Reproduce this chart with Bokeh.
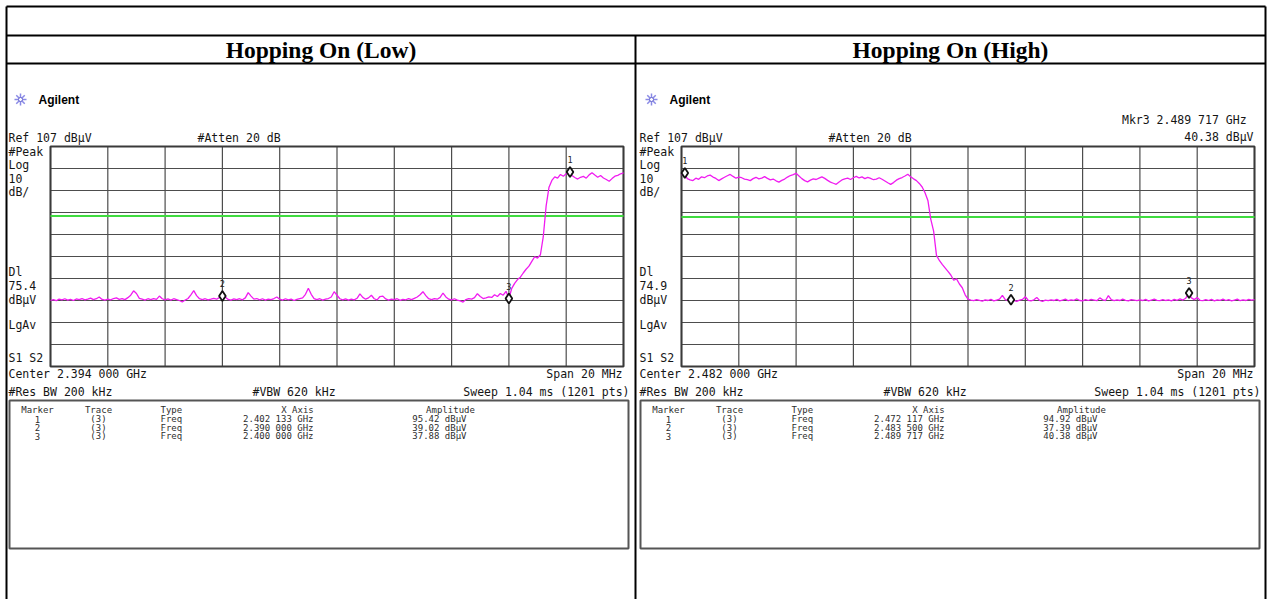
from bokeh.plotting import figure
from bokeh.models import Range1d
from bokeh.embed import file_html
from bokeh.resources import INLINE
from bokeh.core.properties import value

# ---------------------------------------------------------------- data
TITLES = ["Hopping On (Low)", "Hopping On (High)"]
CENTER_MHZ = [2394.0, 2482.0]
SPAN_MHZ = 20.0
SWEEP_STEP_MHZ = 0.1
REF_LEVEL = 107.0
DB_PER_DIV = 10.0
DIVS = 10
DISPLAY_LINE = [75.4, 74.9]
ATTEN_DB = 20
RES_BW_KHZ = 200
VBW_KHZ = 620
SWEEP_MS = 1.04
SWEEP_PTS = 1201

LOW_MARKER_GHZ = [2.402133, 2.390000, 2.400000]
LOW_MARKER_DBUV = [95.42, 39.02, 37.88]
HIGH_MARKER_GHZ = [2.472117, 2.483500, 2.489717]
HIGH_MARKER_DBUV = [94.92, 37.39, 40.38]

# trace levels in dBuV, one value per 0.1 MHz from the left edge of the span
LOW_TRACE = [
    37.0, 37.4, 36.9, 37.6, 37.3, 37.8, 37.2, 37.5, 37.0, 37.7,
    37.4, 37.9, 37.3, 37.6, 38.1, 37.4, 37.8, 38.6, 37.5, 37.2,
    37.6, 37.3, 37.9, 38.2, 37.5, 37.8, 37.4, 38.3, 39.4, 41.4,
    40.2, 38.0, 37.6, 37.2, 37.8, 37.4, 37.9, 37.5, 39.0, 37.8,
    37.3, 37.7, 37.2, 37.8, 37.4, 37.0, 36.3, 37.2, 37.9, 39.6,
    41.5, 39.2, 37.8, 37.4, 37.8, 37.3, 37.6, 38.0, 37.6, 38.4,
    39.0, 38.6, 37.5, 37.2, 37.7, 37.4, 37.8, 37.3, 38.2, 40.6,
    39.0, 37.6, 37.9, 37.3, 37.8, 37.2, 37.6, 37.4, 37.9, 38.6,
    37.6, 37.2, 37.8, 37.3, 37.6, 37.0, 37.5, 37.9, 38.2, 39.8,
    42.6, 39.8, 37.9, 37.4, 37.8, 37.2, 37.6, 37.9, 38.6, 41.0,
    39.4, 37.8, 37.3, 37.7, 37.2, 37.6, 37.3, 38.0, 40.0, 38.4,
    37.6, 38.2, 39.4, 37.8, 37.3, 38.8, 39.0, 37.7, 37.2, 37.6,
    37.4, 37.8, 37.1, 37.5, 37.3, 37.9, 37.4, 38.0, 38.6, 39.6,
    41.0, 39.2, 37.8, 37.4, 37.9, 37.6, 38.4, 40.4, 38.6, 37.6,
    37.3, 37.8, 37.2, 36.8, 36.3, 37.4, 37.9, 37.6, 38.3, 40.1,
    38.8, 37.9, 38.2, 38.6, 38.4, 39.6, 38.8, 40.2, 39.4, 41.2,
    37.9, 42.5, 44.8, 46.5, 47.6, 49.5, 51.2, 52.6, 54.8, 56.9,
    56.3, 57.8, 66.0, 80.0, 88.5, 91.6, 93.2, 92.6, 94.3, 93.5,
    94.6, 95.4, 93.8, 92.9, 92.2, 93.0, 93.4, 92.6, 94.1, 95.1,
    94.0, 93.0, 93.8, 92.7, 92.0, 91.2, 92.4, 93.5, 93.9, 94.6,
    95.0,
]
HIGH_TRACE = [
    94.1, 94.9, 92.4, 91.8, 91.5, 92.6, 92.1, 93.2, 92.8, 93.6,
    94.0, 93.1, 92.5, 91.5, 92.3, 93.0, 93.7, 94.3, 93.4, 92.6,
    93.1, 92.8, 92.2, 91.9, 91.5, 92.4, 93.0, 92.3, 92.6, 93.3,
    92.5, 91.8, 92.2, 91.4, 90.8, 91.6, 92.2, 93.1, 93.8, 94.2,
    94.8, 93.6, 92.4, 91.5, 90.9, 91.7, 92.3, 92.0, 92.6, 93.2,
    92.5, 91.6, 90.8, 90.3, 89.8, 90.9, 91.8, 92.3, 92.6, 92.0,
    92.8, 93.4, 92.7, 93.2, 92.4, 93.0, 92.5, 91.9, 92.2, 92.8,
    92.1, 91.3, 90.5, 89.8, 90.6, 91.7, 92.4, 92.9, 93.6, 94.4,
    93.2, 92.3, 91.5, 90.2, 88.6, 86.0, 82.5, 74.0, 68.5, 57.5,
    55.2, 53.4, 51.8, 50.2, 48.6, 46.2, 46.8, 44.5, 42.8, 39.6,
    37.6, 37.2, 36.9, 37.4, 37.1, 36.7, 37.3, 37.0, 37.5, 36.8,
    37.2, 37.6, 39.3, 37.4, 36.9, 37.39, 37.1, 36.6, 37.2, 37.5,
    38.7, 37.1, 36.8, 37.3, 38.4, 37.0, 36.6, 37.2, 36.9, 37.3,
    37.0, 37.5, 36.8, 37.2, 37.6, 36.9, 37.3, 37.1, 37.7, 37.0,
    36.8, 37.4, 37.0, 37.5, 37.2, 36.9, 38.2, 37.3, 37.0, 39.2,
    37.4, 36.9, 37.3, 37.0, 37.6, 37.1, 36.8, 37.4, 37.2, 36.9,
    37.3, 37.0, 37.5, 36.8, 37.2, 37.6, 37.1, 36.9, 37.4, 37.0,
    37.3, 36.8, 37.5, 37.1, 37.7, 37.2, 38.0, 40.38, 38.2, 37.4,
    38.4, 37.1, 36.9, 37.4, 37.0, 37.5, 36.8, 37.3, 37.1, 37.6,
    37.0, 37.4, 36.8, 37.2, 37.6, 36.9, 37.3, 37.0, 37.5, 37.2,
    37.4,
]

# ---------------------------------------------------------------- page geometry
W, H = 1269, 599
GRID_TOP, GRID_BOT = 146.0, 366.0
GRID_LEFT = [50.0, 681.0]
GRID_WIDTH = 573.0
PANEL_DX = [0.0, 631.0]

MONO = "DejaVu Sans Mono"
TRACE_COLOR = "#f01cf0"
DL_COLOR = "#3fdc3f"
GRID_COLOR = "#4d4d4d"

p = figure(width=W, height=H, x_range=Range1d(0, W), y_range=Range1d(H, 0),
           output_backend="svg", toolbar_location=None, min_border=0,
           x_axis_location=None, y_axis_location=None)
p.grid.visible = False
p.outline_line_color = None
p.background_fill_color = "white"
p.border_fill_color = "white"


def freq_range(px_left, f0, f1):
    s = (f1 - f0) / GRID_WIDTH
    px_right = px_left + GRID_WIDTH
    return Range1d(f0 - px_left * s, f1 + (W - px_right) * s)


s_db = DB_PER_DIV * DIVS / (GRID_BOT - GRID_TOP)
bottom_level = REF_LEVEL - DB_PER_DIV * DIVS
p.extra_y_ranges = {"db": Range1d(bottom_level - (H - GRID_BOT) * s_db,
                                  REF_LEVEL + GRID_TOP * s_db)}
p.extra_x_ranges = {
    f"f{k}": freq_range(GRID_LEFT[k], CENTER_MHZ[k] - SPAN_MHZ / 2, CENTER_MHZ[k] + SPAN_MHZ / 2)
    for k in range(2)
}


def label(x, y, txt, size="11.5px", align="left", font=MONO, style="normal", color="#151515"):
    p.text(x=[x], y=[y], text=[txt], text_font=value(font), text_font_size=size,
           text_align=align, text_baseline="middle", text_font_style=style,
           text_color=color)


def ghz_text(mhz):
    s = f"{mhz / 1000:.6f}"
    return f"{s[:5]} {s[5:]} GHz"


# ---------------------------------------------------------------- document table
TABLE_L, TABLE_R, TABLE_T = 6, 1265, 6
ROW1, ROW2, COL_DIV = 35, 63, 635
p.segment(x0=[TABLE_L, TABLE_L, TABLE_L, TABLE_L, TABLE_R, COL_DIV],
          y0=[TABLE_T, ROW1, ROW2, TABLE_T, TABLE_T, ROW1],
          x1=[TABLE_R, TABLE_R, TABLE_R, TABLE_L, TABLE_R, COL_DIV],
          y1=[TABLE_T, ROW1, ROW2, H, H, H],
          line_color="black", line_width=2)

for k in range(2):
    cx = (TABLE_L + COL_DIV) / 2 if k == 0 else (COL_DIV + TABLE_R) / 2
    label(cx, 49, TITLES[k], size="23.5px", align="center",
          font="Liberation Serif", style="bold", color="black")

# ---------------------------------------------------------------- analyzer screens
panels = [
    (LOW_TRACE, LOW_MARKER_GHZ, LOW_MARKER_DBUV, False),
    (HIGH_TRACE, HIGH_MARKER_GHZ, HIGH_MARKER_DBUV, True),
]

for k, (trace, mk_ghz, mk_dbuv, readout) in enumerate(panels):
    rng = f"f{k}"
    dx = PANEL_DX[k]
    f0 = CENTER_MHZ[k] - SPAN_MHZ / 2
    f1 = CENTER_MHZ[k] + SPAN_MHZ / 2
    kw = dict(x_range_name=rng, y_range_name="db")

    # graticule
    vx = [f0 + SPAN_MHZ / DIVS * i for i in range(DIVS + 1)]
    hy = [REF_LEVEL - DB_PER_DIV * i for i in range(DIVS + 1)]
    p.segment(x0=vx, y0=[bottom_level] * len(vx), x1=vx, y1=[REF_LEVEL] * len(vx),
              line_color=GRID_COLOR, line_width=1.2, **kw)
    p.segment(x0=[f0] * len(hy), y0=hy, x1=[f1] * len(hy), y1=hy,
              line_color=GRID_COLOR, line_width=1.2, **kw)
    p.quad(left=[f0], right=[f1], bottom=[bottom_level], top=[REF_LEVEL],
           fill_color=None, line_color="#3a3a3a", line_width=2, **kw)

    # display line
    p.segment(x0=[f0], y0=[DISPLAY_LINE[k]], x1=[f1], y1=[DISPLAY_LINE[k]],
              line_color=DL_COLOR, line_width=2, **kw)

    # trace
    freqs = [f0 + SWEEP_STEP_MHZ * i for i in range(len(trace))]
    p.line(freqs, trace, line_color=TRACE_COLOR, line_width=1.3, **kw)

    # markers
    mk_mhz = [g * 1000 for g in mk_ghz]
    p.scatter(mk_mhz, mk_dbuv, marker="diamond", size=10, line_color="#111111",
              line_width=1.8, fill_color="white", **kw)
    p.text(mk_mhz, mk_dbuv, text=[str(i + 1) for i in range(len(mk_mhz))],
           y_offset=-9, text_font=value(MONO), text_font_size="8.5px",
           text_align="center", text_baseline="bottom", text_color="#222222", **kw)

    # header of the screen
    p.scatter([dx + 20], [99], marker="asterisk", size=12, line_color="#8a8ae6", line_width=1.5)
    p.scatter([dx + 20], [99], marker="circle", size=4, line_color="#6a6ad0", fill_color="white")
    label(dx + 38, 99, "Agilent", size="12px", font="Liberation Sans", style="bold", color="black")
    label(dx + 8, 137, f"Ref {REF_LEVEL:.0f} dBµV")
    label(dx + 197, 137, f"#Atten {ATTEN_DB} dB")
    if readout:
        label(dx + 622, 119, f"Mkr3  {ghz_text(mk_mhz[2])}", align="right")
        label(dx + 622, 136, f"{mk_dbuv[2]:.2f} dBµV", align="right")

    # left annotation column
    for txt, y in [("#Peak", 151), ("Log", 164), (f"{DB_PER_DIV:.0f}", 178), ("dB/", 191),
                   ("Dl", 271), (f"{DISPLAY_LINE[k]}", 285), ("dBµV", 299),
                   ("LgAv", 324), ("S1  S2", 357)]:
        label(dx + 8, y, txt)

    # footer lines
    label(dx + 8, 373, f"Center {ghz_text(CENTER_MHZ[k])}")
    label(dx + 622, 373, f"Span {SPAN_MHZ:.0f} MHz", align="right")
    label(dx + 8, 391, f"#Res BW {RES_BW_KHZ} kHz")
    label(dx + 252, 391, f"#VBW {VBW_KHZ} kHz")
    label(dx + 629, 391, f"Sweep {SWEEP_MS:.2f} ms ({SWEEP_PTS} pts)", align="right")

    # marker table
    p.quad(left=[dx + 9], right=[dx + 628], top=[400], bottom=[548],
           fill_color=None, line_color="#555555", line_width=2)
    tsize = "9px"
    tcol = "#2e2e2e"
    label(dx + 37, 409, "Marker", size=tsize, align="center", color=tcol)
    label(dx + 98, 409, "Trace", size=tsize, align="center", color=tcol)
    label(dx + 160, 409, "Type", size=tsize, color=tcol)
    label(dx + 297, 409, "X Axis", size=tsize, align="center", color=tcol)
    label(dx + 450, 409, "Amplitude", size=tsize, align="center", color=tcol)
    for i in range(len(mk_mhz)):
        y = 418.5 + 8.6 * i
        label(dx + 37, y, str(i + 1), size=tsize, align="center", color=tcol)
        label(dx + 98, y, "(3)", size=tsize, align="center", color=tcol)
        label(dx + 160, y, "Freq", size=tsize, color=tcol)
        label(dx + 313, y, ghz_text(mk_mhz[i]), size=tsize, align="right", color=tcol)
        label(dx + 466, y, f"{mk_dbuv[i]:.2f} dBµV", size=tsize, align="right", color=tcol)

open("out.html", "w").write(file_html(p, INLINE))
